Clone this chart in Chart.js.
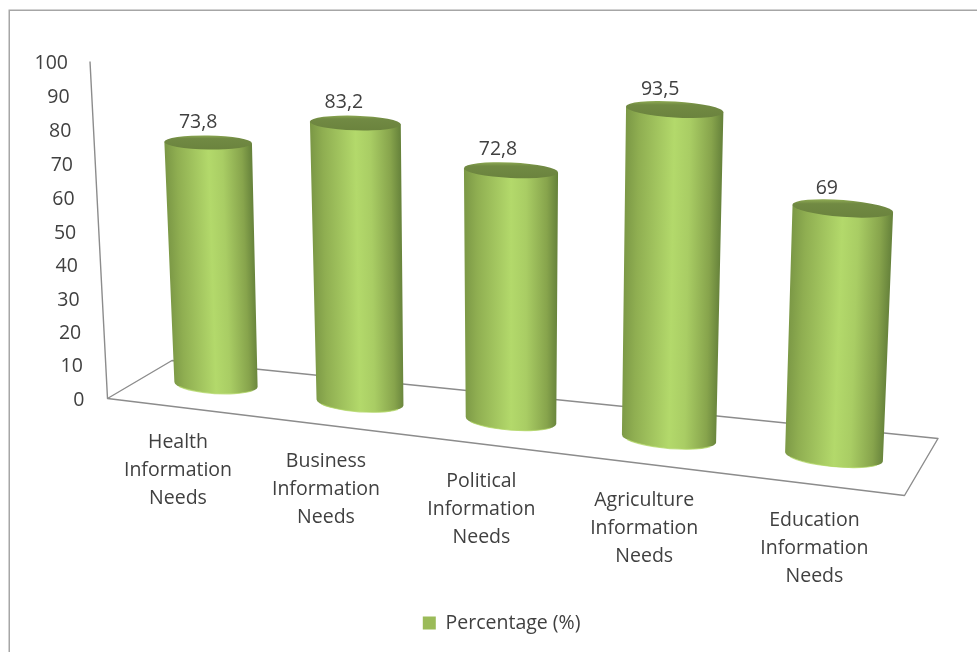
<!DOCTYPE html>
<html><head><meta charset="utf-8">
<style>html,body{margin:0;padding:0;background:#fff}canvas{display:block}</style>
<script src="https://cdn.jsdelivr.net/npm/chart.js@4/dist/chart.umd.js"></script>
</head><body><canvas id="c" width="977" height="652"></canvas>
<script>
const categories = [
  ["Health","Information","Needs"],
  ["Business","Information","Needs"],
  ["Political","Information","Needs"],
  ["Agriculture","Information","Needs"],
  ["Education","Information","Needs"]
];
const seriesName = "Percentage (%)";
const percentages = [73.8, 83.2, 72.8, 93.5, 69];
const FONT = "'Open Sans', sans-serif";
const FONT_SIZE = 19.5;
const TEXT = "#404040";

// Projection of the 3-D scene: u is the category position, m the position relative to the middle one
function project(el, i, n) {
  const u = i, m = i - (n - 1) / 2;
  const bx = el.x + 3.5 * m * m;
  const by = el.base - 14 + 18 * u;
  const h = (el.base - el.y) * (0.977 + 0.0235 * u) - 1;
  const lean = 1.1e-4 * (bx - 511) * h;
  return {
    bx, by, h, lean, tx: bx + lean, ty: by - h,
    rb: 41.7 + 1.85 * u, rt: 43.8 + 1.65 * u,
    ryb: 9 + 0.3 * u, ryt: 7 + 0.35 * u,
    ab: 0.06 + 0.009 * u, at: 0.015 + 0.015 * u, u
  };
}

function drawCylinder(ctx, p) {
  const lx = p.tx - p.rt * Math.cos(p.at), ly = p.ty - p.rt * Math.sin(p.at);
  const rx = p.tx + p.rt * Math.cos(p.at), ry = p.ty + p.rt * Math.sin(p.at);
  ctx.beginPath();
  ctx.moveTo(lx, ly);
  ctx.lineTo(p.bx - p.rb * Math.cos(p.ab), p.by - p.rb * Math.sin(p.ab));
  ctx.ellipse(p.bx, p.by, p.rb, p.ryb, p.ab, Math.PI, 0, true);
  ctx.lineTo(rx, ry);
  ctx.closePath();
  ctx.save();
  // shear the gradient so its bands follow the lean of the cylinder
  ctx.translate(p.bx, p.by);
  ctx.transform(1, 0, -p.lean / p.h, 1, 0, 0);
  const w = (p.rb + p.rt) / 2 + 1;
  const g = ctx.createLinearGradient(-w, 0, w, 0);
  g.addColorStop(0, "#7a9745");
  g.addColorStop(0.14, "#8fae51");
  g.addColorStop(0.5, "#b3d96b");
  g.addColorStop(0.66, "#a9cd64");
  g.addColorStop(0.88, "#87a44c");
  g.addColorStop(1, "#64803a");
  ctx.fillStyle = g;
  ctx.fill();
  ctx.restore();
  ctx.beginPath();
  ctx.ellipse(p.bx, p.by, p.rb - 0.5, p.ryb, p.ab, Math.PI * 0.85, Math.PI * 0.15, true);
  ctx.strokeStyle = "rgba(176,214,100,0.75)";
  ctx.lineWidth = 1.2;
  ctx.stroke();
  const t = ctx.createLinearGradient(0, p.ty - p.ryt, 0, p.ty + p.ryt);
  t.addColorStop(0, "#8aa650");
  t.addColorStop(0.22, "#718a43");
  t.addColorStop(1, "#6b833e");
  ctx.beginPath();
  ctx.ellipse(p.tx, p.ty, p.rt, p.ryt, p.at, 0, Math.PI * 2);
  ctx.fillStyle = t;
  ctx.fill();
}

Chart.BarController.prototype.draw = function () {
  const chart = this.chart, ctx = chart.ctx, meta = this._cachedMeta;
  const values = chart.data.datasets[this.index].data;
  meta.data.forEach((el, i) => {
    const p = project(el, i, meta.data.length);
    drawCylinder(ctx, p);
    ctx.save();
    ctx.font = FONT_SIZE + "px " + FONT;
    ctx.fillStyle = TEXT;
    ctx.textAlign = "center";
    ctx.textBaseline = "middle";
    ctx.fillText(String(values[i]).replace(".", ","), p.tx - 10 - 1.5 * i, p.ty - 20.5);
    ctx.restore();
  });
};

const scenePlugin = {
  id: "scene",
  afterLayout(chart) {
    const l = chart.legend;
    l.left += 53; l.right += 53;
    const h = l.bottom - l.top;
    l.top = 623 - h / 2; l.bottom = 623 + h / 2;
  },
  beforeDraw(chart) {
    const { ctx, scales: { x, y } } = chart;
    ctx.save();
    ctx.strokeStyle = "#a6a6a6";
    ctx.lineWidth = 1.5;
    ctx.strokeRect(9.25, 10.25, 1100, 800);
    ctx.restore();
    y.getLabelItems().forEach((it, i) => {
      const v = y.ticks[i].value;
      it.options.textAlign = "right";
      it.options.textBaseline = "middle";
      it.options.translation = [84.5 - 0.165 * v, y.getPixelForValue(v) + 1.5 + 6.8 * v * (100 - v) / 1e4];
      it.textOffset = 0;
    });
    x.getLabelItems().forEach((it, i) => {
      it.options.textAlign = "center";
      it.options.textBaseline = "middle";
      it.options.translation = [178 + 144.3 * i + 3.7 * i * i, 442 + 19.5 * i];
      it.textOffset = 0;
    });
  },
  beforeDatasetsDraw(chart) {
    const { ctx, scales: { y } } = chart;
    const top = y.getPixelForValue(100), zero = y.getPixelForValue(0);
    ctx.save();
    ctx.strokeStyle = "#8c8c8c";
    ctx.lineWidth = 1.4;
    ctx.lineJoin = "round";
    ctx.beginPath();
    ctx.moveTo(90, top);
    ctx.lineTo(107.5, zero);
    ctx.lineTo(172, zero - 38);
    ctx.lineTo(938, zero + 40);
    ctx.lineTo(904.5, zero + 97);
    ctx.lineTo(107.5, zero);
    ctx.stroke();
    ctx.restore();
  }
};

new Chart(document.getElementById("c"), {
  type: "bar",
  data: {
    labels: categories,
    datasets: [{ label: seriesName, data: percentages, backgroundColor: "#9bbb59", clip: false }]
  },
  plugins: [scenePlugin],
  options: {
    responsive: false,
    animation: false,
    layout: { padding: { left: 0, right: 79.75, top: 61.5, bottom: 0 } },
    plugins: {
      tooltip: { enabled: false },
      legend: {
        position: "bottom",
        labels: { boxWidth: 13, boxHeight: 13, padding: 10, color: TEXT, font: { family: FONT, size: FONT_SIZE } }
      }
    },
    scales: {
      x: {
        grid: { display: false, drawTicks: false },
        border: { display: false },
        afterFit(s) { s.height = 214; },
        ticks: { autoSkip: false, maxRotation: 0, minRotation: 0, color: TEXT, font: { family: FONT, size: FONT_SIZE, lineHeight: 28 / FONT_SIZE } }
      },
      y: {
        min: 0, max: 100,
        grid: { display: false, drawTicks: false },
        border: { display: false },
        afterFit(s) { s.width = 124.75; },
        ticks: { stepSize: 10, autoSkip: false, color: TEXT, font: { family: FONT, size: FONT_SIZE } }
      }
    }
  }
});
</script></body></html>
